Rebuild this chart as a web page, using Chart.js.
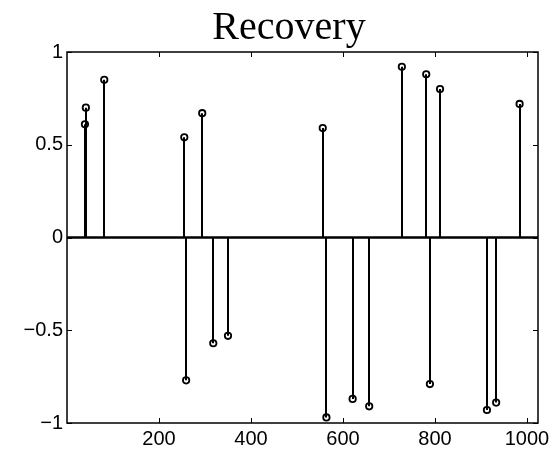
<!DOCTYPE html>
<html>
<head>
<meta charset="utf-8">
<title>Recovery</title>
<script src="https://cdn.jsdelivr.net/npm/chart.js@4.4.1/dist/chart.umd.min.js"></script>
<style>
  html, body { margin: 0; padding: 0; background: #fff; }
</style>
</head>
<body>
<canvas id="stemChart" width="558" height="453"></canvas>
<script>
// -------------------------------------------------------------------------- Data

const titleText = 'Recovery'

// sample index of each recovered spike
const spikeIndex = [39, 41, 81, 255, 259, 294, 318, 350, 556, 564, 621, 657, 728, 781, 789, 811, 913, 933, 984]
// recovered amplitude at each index
const spikeValue = [0.61, 0.70, 0.85, 0.54, -0.77, 0.67, -0.57, -0.53, 0.59, -0.97, -0.87, -0.91, 0.92, 0.88, -0.79, 0.80, -0.93, -0.89, 0.72]

const xTicks = [200, 400, 600, 800, 1000]
const yTicks = [-1, -0.5, 0, 0.5, 1]

const xMin = 0
const xMax = 1024
const yMin = -1
const yMax = 1

// -------------------------------------------------------------------------- Helpers

const tickFont = { family: '"Liberation Sans", Arial, sans-serif', size: 20 }

function fmtTick(v) {
    // matlab style minus sign
    return v < 0 ? '\u2212' + String(-v) : String(v)
}

// stems from the zero line up/down to each marker
const stemPlugin = {
    id: 'stems',
    beforeDatasetsDraw(chart) {
        const ctx = chart.ctx
        const xs = chart.scales.x
        const ys = chart.scales.y
        const y0 = ys.getPixelForValue(0)
        ctx.save()
        ctx.strokeStyle = '#000'
        ctx.lineWidth = 2
        ctx.beginPath()
        chart.data.datasets[0].data.forEach(p => {
            const px = Math.round(xs.getPixelForValue(p.x))
            ctx.moveTo(px, y0)
            ctx.lineTo(px, ys.getPixelForValue(p.y))
        })
        ctx.stroke()
        // baseline
        ctx.lineWidth = 2.5
        ctx.beginPath()
        ctx.moveTo(chart.chartArea.left, y0)
        ctx.lineTo(chart.chartArea.right, y0)
        ctx.stroke()
        ctx.restore()
    }
}

// box round the axes with inward tick marks on all four sides
const boxPlugin = {
    id: 'axesBox',
    afterDraw(chart) {
        const ctx = chart.ctx
        const a = chart.chartArea
        const xs = chart.scales.x
        const ys = chart.scales.y
        const len = 5
        ctx.save()
        ctx.strokeStyle = '#000'
        ctx.lineWidth = 1.5
        ctx.strokeRect(a.left, a.top, a.right - a.left, a.bottom - a.top)
        ctx.lineWidth = 1
        ctx.beginPath()
        xTicks.forEach(v => {
            const px = Math.round(xs.getPixelForValue(v)) + 0.5
            ctx.moveTo(px, a.bottom)
            ctx.lineTo(px, a.bottom - len)
            ctx.moveTo(px, a.top)
            ctx.lineTo(px, a.top + len)
        })
        yTicks.forEach(v => {
            const py = Math.round(ys.getPixelForValue(v)) + 0.5
            ctx.moveTo(a.left, py)
            ctx.lineTo(a.left + len, py)
            ctx.moveTo(a.right, py)
            ctx.lineTo(a.right - len, py)
        })
        ctx.stroke()

        // title
        ctx.fillStyle = '#000'
        ctx.font = '40px "Liberation Serif", "Times New Roman", serif'
        ctx.textAlign = 'center'
        ctx.textBaseline = 'alphabetic'
        ctx.fillText(titleText, 289, 39)
        ctx.restore()
    }
}

// -------------------------------------------------------------------------- Stem Chart Config

const dataStemChart = {
    datasets: [{
        label: titleText,
        data: spikeIndex.map((x, i) => ({ x: x, y: spikeValue[i] })),
        pointStyle: 'circle',
        pointRadius: 3.2,
        pointBorderWidth: 1.8,
        pointBorderColor: '#000',
        pointBackgroundColor: 'rgba(255, 255, 255, 0)',
        showLine: false
    }]
}

const configStemChart = {
    type: 'scatter',
    data: dataStemChart,
    plugins: [stemPlugin, boxPlugin],
    options: {
        responsive: false,
        animation: false,
        events: [],
        layout: {
            padding: { top: 52, right: 20, left: 0, bottom: 0 }
        },
        plugins: {
            legend: { display: false },
            title: { display: false },
            tooltip: { enabled: false }
        },
        scales: {
            x: {
                type: 'linear',
                min: xMin,
                max: xMax,
                afterBuildTicks: s => { s.ticks = xTicks.map(v => ({ value: v })) },
                afterFit: s => { s.height = 30 },
                grid: { display: false, drawTicks: false },
                border: { display: false },
                ticks: {
                    color: '#000',
                    font: tickFont,
                    padding: 4,
                    maxRotation: 0,
                    autoSkip: false,
                    callback: v => fmtTick(v)
                }
            },
            y: {
                type: 'linear',
                min: yMin,
                max: yMax,
                afterBuildTicks: s => { s.ticks = yTicks.map(v => ({ value: v })) },
                afterFit: s => { s.width = 67 },
                grid: { display: false, drawTicks: false },
                border: { display: false },
                ticks: {
                    color: '#000',
                    font: tickFont,
                    padding: 4,
                    autoSkip: false,
                    callback: v => fmtTick(v)
                }
            }
        }
    }
}

// -------------------------------------------------------------------------- Render Chart

let myStemChart = new Chart(
    document.getElementById('stemChart'),
    configStemChart
)
</script>
</body>
</html>
